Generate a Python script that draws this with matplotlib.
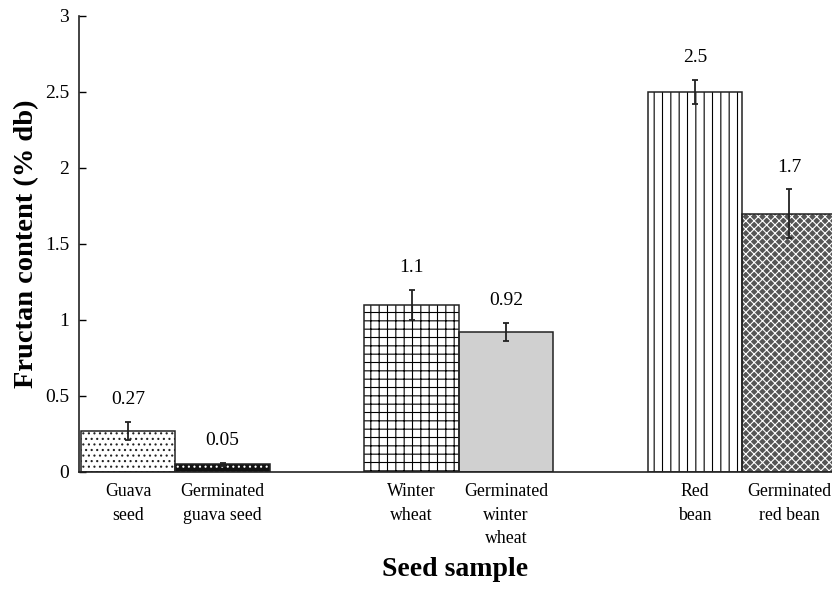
import matplotlib
matplotlib.use("Agg")
import matplotlib.pyplot as plt
import numpy as np

plt.rcParams['font.family'] = ['Liberation Serif', 'DejaVu Serif']
plt.rcParams['hatch.linewidth'] = 0.8

categories = ["Guava\nseed", "Germinated\nguava seed", "Winter\nwheat",
              "Germinated\nwinter\nwheat", "Red\nbean", "Germinated\nred bean"]
values = [0.27, 0.05, 1.1, 0.92, 2.5, 1.7]
errors = [0.06, 0.01, 0.10, 0.06, 0.08, 0.16]
value_labels = ["0.27", "0.05", "1.1", "0.92", "2.5", "1.7"]
positions = [0, 1, 3, 4, 6, 7]
ytick_values = [0, 0.5, 1, 1.5, 2, 2.5, 3]
ytick_labels = ["0", "0.5", "1", "1.5", "2", "2.5", "3"]

face_colors = ["white", "#111111", "white", "#d0d0d0", "white", "#555555"]
hatch_colors = ["#222222", "white", "black", "#d0d0d0", "black", "white"]
hatches = ["...", "...", "++", "", "||", "xxxx"]

fig = plt.figure(figsize=(8.32, 5.89), dpi=100)
ax = fig.add_axes([79/832, 117/589, (832-79)/832, (472-16)/589])

for x, v, fc, hc, h in zip(positions, values, face_colors, hatch_colors, hatches):
    ax.bar(x, v, width=1.0, align='edge', color=fc, edgecolor=hc, hatch=h, linewidth=0)
ax.bar(positions, values, width=1.0, align='edge', fill=False, edgecolor='#222222', linewidth=1.1)

centers = [p + 0.5 for p in positions]
ax.errorbar(centers, values, yerr=errors, fmt='none', ecolor='#222222',
            elinewidth=1.3, capsize=2.5, capthick=1.3)

for c, v, e, lab in zip(centers, values, errors, value_labels):
    ax.annotate(lab, (c, v + e), xytext=(0, 16), textcoords='offset points',
                ha='center', va='center', fontsize=14)

ax.set_xlim(-0.02, 7.95)
ax.set_ylim(0, 3)
ax.set_yticks(ytick_values)
ax.set_yticklabels(ytick_labels, fontsize=14)
ax.set_xticks(centers)
ax.set_xticklabels(categories, fontsize=12.8, va='top', linespacing=1.5)
ax.tick_params(axis='x', length=0, pad=8)
ax.tick_params(axis='y', direction='in', length=5, width=1, pad=7)

for s in ['top', 'right']:
    ax.spines[s].set_visible(False)
for s in ['left', 'bottom']:
    ax.spines[s].set_linewidth(1.2)
    ax.spines[s].set_color('#222222')

ax.set_ylabel("Fructan content (% db)", fontsize=20.5, fontweight='bold', labelpad=4)
ax.set_xlabel("Seed sample", fontsize=20, fontweight='bold', labelpad=7)

fig.savefig("out.png", dpi=100)
